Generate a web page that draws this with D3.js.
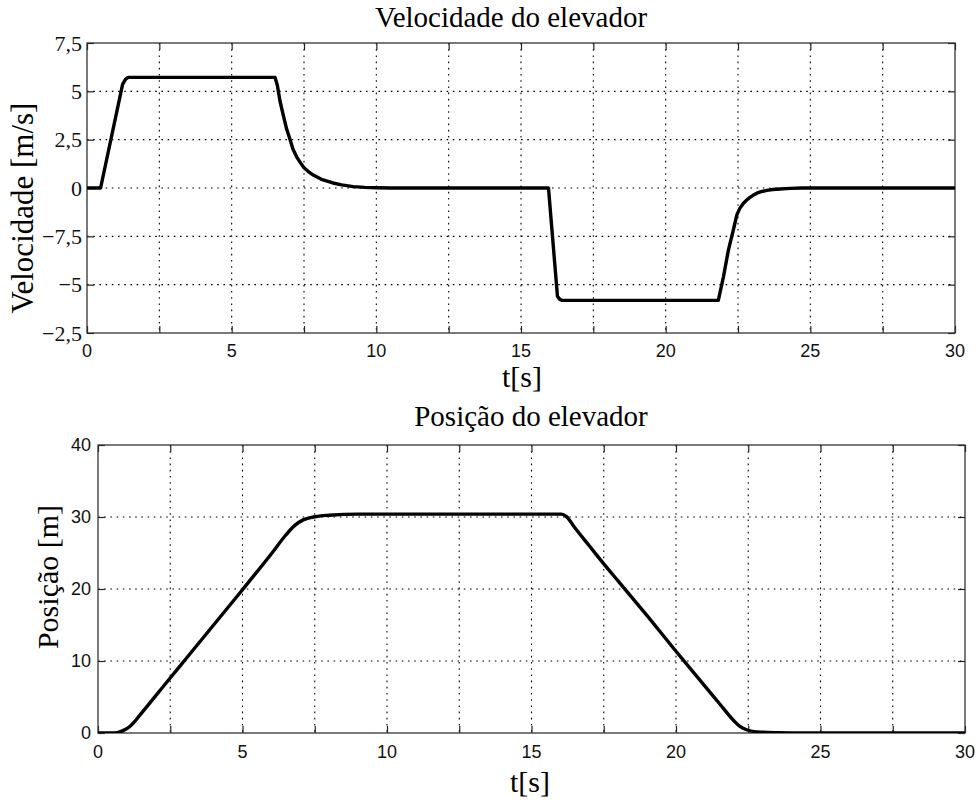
<!DOCTYPE html>
<html><head><meta charset="utf-8">
<script src="https://cdn.jsdelivr.net/npm/d3@7"></script>
<style>body{margin:0;background:#fff}svg{display:block}</style>
</head><body>
<script>
// ---- data ----
const velT = [0,0.47,1.23,1.33,1.42,6.5,6.58,6.67,6.8,6.9,7.02,7.12,7.25,7.38,7.5,7.65,7.82,8.1,8.5,8.8,9.2,9.6,10,10.5,15.95,16.26,16.34,16.41,21.82,22.0,22.17,22.34,22.46,22.57,22.69,22.8,22.9,23.02,23.15,23.3,23.5,23.7,23.95,24.3,24.7,30];
const velV = [0,0,5.36,5.62,5.72,5.72,5.3,4.5,3.67,3.05,2.5,2.0,1.6,1.3,1.05,0.85,0.67,0.45,0.26,0.16,0.07,0.03,0.01,0,0,-5.6,-5.76,-5.81,-5.81,-4.57,-3.2,-2.16,-1.39,-1.03,-0.79,-0.62,-0.5,-0.38,-0.27,-0.19,-0.12,-0.08,-0.05,-0.02,0,0];
const velYTicks = [-7.5,-5,-2.5,0,2.5,5,7.5];
const velYTickLabels = ["\u22122,5","\u22125","\u22127,5","0","2,5","5","7,5"];

const posT = [0,0.5,0.7,0.9,1.1,1.25,1.42,2,2.49,3,4,5,6,6.5,6.8,7.1,7.45,8,9,16.04,16.2,16.5,17,17.48,18,19,19.97,21,21.5,21.98,22.2,22.44,22.7,23,23.5,24.3,25,30];
const posP = [0,0,0.1,0.4,0.9,1.5,2.34,5.19,7.6,10.1,15.0,19.9,24.9,27.5,28.8,29.6,30.0,30.25,30.4,30.4,30.1,28.5,26.0,23.6,21.1,16.3,11.5,6.5,4.1,1.8,0.95,0.45,0.2,0.1,0.04,0.01,0,0];
const posYTicks = [0,10,20,30,40];

const xTicks = [0,2.5,5,7.5,10,12.5,15,17.5,20,22.5,25,27.5,30];
const xLabelTicks = [0,5,10,15,20,25,30];

const W = 977, H = 802;
const svg = d3.select("body").append("svg").attr("width",W).attr("height",H);
const serif = "Liberation Serif";
const sans = "Liberation Sans";

function panel(o){
  const x = d3.scaleLinear().domain([0,30]).range([o.x0,o.x1]);
  const y = d3.scaleLinear().domain(o.yDomain).range([o.y1,o.y0]);
  const g = svg.append("g");
  // grid
  g.selectAll(".vg").data(xTicks.slice(1,-1)).join("line")
    .attr("x1",d=>x(d)).attr("x2",d=>x(d)).attr("y1",o.y0).attr("y2",o.y1)
    .attr("stroke","#000").attr("stroke-width",1.1).attr("stroke-dasharray","1.6,4.6");
  g.selectAll(".hg").data(o.yTicks.slice(1,-1)).join("line")
    .attr("x1",o.x0).attr("x2",o.x1).attr("y1",d=>y(d)).attr("y2",d=>y(d))
    .attr("stroke","#000").attr("stroke-width",1.1).attr("stroke-dasharray","1.6,4.6");
  // inward ticks on all four sides
  const tl = 7;
  const xb = d3.axisBottom(x).tickValues(xTicks).tickSizeInner(-tl).tickSizeOuter(0).tickFormat("");
  const xt = d3.axisTop(x).tickValues(xTicks).tickSizeInner(-tl).tickSizeOuter(0).tickFormat("");
  const yl = d3.axisLeft(y).tickValues(o.yTicks).tickSizeInner(-tl).tickSizeOuter(0).tickFormat("");
  const yr = d3.axisRight(y).tickValues(o.yTicks).tickSizeInner(-tl).tickSizeOuter(0).tickFormat("");
  [[xb,`translate(0,${o.y1})`],[xt,`translate(0,${o.y0})`],[yl,`translate(${o.x0},0)`],[yr,`translate(${o.x1},0)`]].forEach(([ax,tr])=>{
    const a = g.append("g").attr("transform",tr).call(ax);
    a.selectAll("path").remove();
    a.selectAll("line").attr("stroke","#222").attr("stroke-width",1.2);
  });
  g.append("rect").attr("x",o.x0).attr("y",o.y0).attr("width",o.x1-o.x0).attr("height",o.y1-o.y0)
    .attr("fill","none").attr("stroke","#333").attr("stroke-width",1.3);
  // tick labels
  g.selectAll(".xl").data(xLabelTicks).join("text")
    .attr("x",d=>x(d)).attr("y",o.y1+o.xLabDy).attr("text-anchor","middle")
    .style("font-family",sans).attr("font-size",18).attr("fill","#111").text(d=>d);
  g.selectAll(".yl").data(o.yTicks).join("text")
    .attr("x",o.x0-o.yLabDx).attr("y",d=>y(d)).attr("dy","0.35em").attr("text-anchor","end")
    .style("font-family",o.yTickFont).attr("font-size",o.yTickSize).attr("fill","#111")
    .text((d,i)=>o.yTickLabels[i]);
  // clip + line
  const cid = "clip"+o.id;
  svg.append("clipPath").attr("id",cid).append("rect")
    .attr("x",o.x0).attr("y",o.y0-2).attr("width",o.x1-o.x0).attr("height",o.y1-o.y0+2);
  const pts = o.t.map((t,i)=>[t,o.v[i]]);
  g.append("path").datum(pts).attr("clip-path",`url(#${cid})`)
    .attr("d",d3.line().x(d=>x(d[0])).y(d=>y(d[1])).curve(o.curve))
    .attr("fill","none").attr("stroke","#000").attr("stroke-width",3.4).attr("stroke-linejoin","round");
  // titles / labels
  svg.append("text").attr("x",o.titleX).attr("y",o.titleY).attr("text-anchor","middle")
    .style("font-family",serif).attr("font-size",29).attr("fill","#000").text(o.title);
  svg.append("text").attr("x",o.tX).attr("y",o.tY).attr("text-anchor","middle")
    .style("font-family",serif).attr("font-size",30).attr("fill","#000").text("t[s]");
  svg.append("text").attr("transform",`translate(${o.ylX},${o.ylY}) rotate(-90)`).attr("text-anchor","middle")
    .style("font-family",serif).attr("font-size",o.ylSize).attr("fill","#000").text(o.ylabel);
}

panel({id:1,x0:87,x1:955,y0:43,y1:333,yDomain:[-7.5,7.5],yTicks:velYTicks,yTickLabels:velYTickLabels,
  yTickFont:serif,yTickSize:22,yLabDx:5,xLabDy:24,t:velT,v:velV,curve:d3.curveLinear,
  title:"Velocidade do elevador",titleX:511,titleY:27,tX:522,tY:387,
  ylabel:"Velocidade [m/s]",ylX:33,ylY:208,ylSize:31});
panel({id:2,x0:98,x1:965,y0:445,y1:733,yDomain:[0,40],yTicks:posYTicks,yTickLabels:posYTicks.map(String),
  yTickFont:sans,yTickSize:18,yLabDx:7,xLabDy:25,t:posT,v:posP,curve:d3.curveMonotoneX,
  title:"Posição do elevador",titleX:531,titleY:426,tX:530,tY:792,
  ylabel:"Posição [m]",ylX:58,ylY:577,ylSize:30});
</script>
</body></html>
